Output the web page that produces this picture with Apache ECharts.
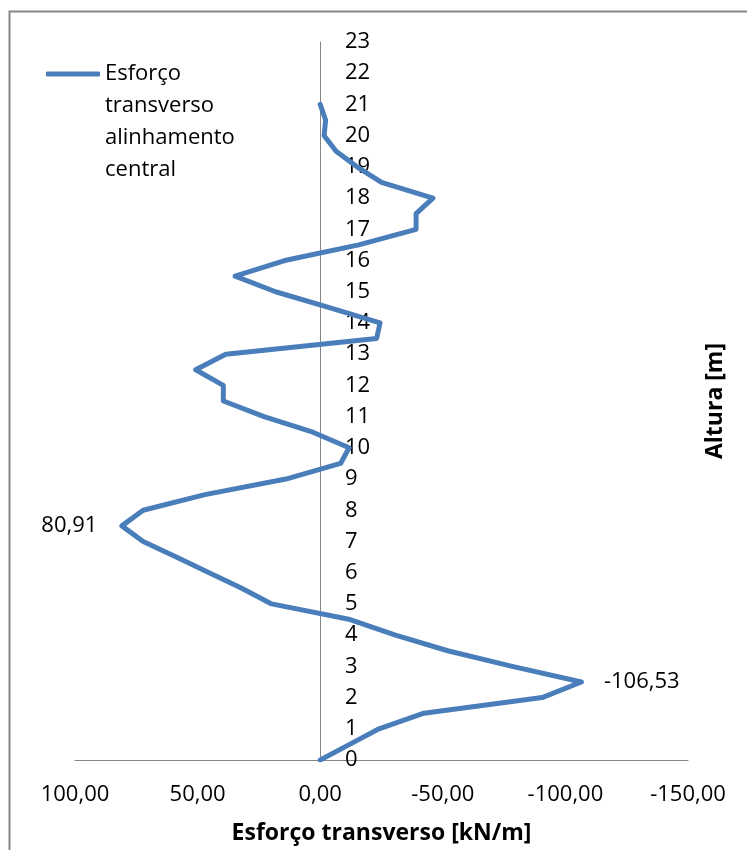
<!DOCTYPE html>
<html>
<head>
<meta charset="utf-8">
<script src="https://cdn.jsdelivr.net/npm/echarts@6/dist/echarts.min.js"></script>
<style>
html,body{margin:0;padding:0;background:#fff;}
#chart{width:747px;height:850px;}
</style>
</head>
<body>
<div id="chart"></div>
<script>
// Data
var seriesName = 'Esforço transverso alinhamento central';
var heights = [0,0.5,1,1.5,2,2.5,3,3.5,4,4.5,5,5.5,6,6.5,7,7.5,8,8.5,9,9.5,10,10.5,11,11.5,12,12.5,13,13.5,14,14.5,15,15.5,16,16.5,17,17.5,18,18.5,19,19.5,20,20.5,21];
var shearValues = [0,-12,-24,-42.3,-90.5,-106.53,-78.3,-52,-30.7,-12.2,19.8,32,45.3,58.7,72.2,80.91,72.2,47,14,-8.3,-11.8,3,22.9,39.5,39.5,50.8,38.5,-23,-24.4,-3.4,18.2,34.7,14.5,-15.7,-39.1,-39.1,-46,-25,-15,-6.5,-1.6,-2.2,0];
var xTicks = [-150,-100,-50,0,50,100];
var labelledPoints = [{index:15, position:'left'}, {index:5, position:'right'}];
var xTitle = 'Esforço transverso [kN/m]';
var yTitle = 'Altura [m]';

function fmt(v){ return v.toFixed(2).replace('.', ','); }

var FONT = '"Open Sans", sans-serif';
var lineColor = '#4a7ebb';

var data = heights.map(function(h, i){
  return { value: [shearValues[i], h] };
});
labelledPoints.forEach(function(p){
  data[p.index].label = { show: true, position: p.position, distance: p.position === 'left' ? 24 : 22 };
});

var chart = echarts.init(document.getElementById('chart'), null, {renderer:'canvas'});
chart.setOption({
  animation: false,
  backgroundColor: '#fff',
  textStyle: { fontFamily: FONT },
  grid: { left: 75, right: 59, top: 42, bottom: 90, containLabel: false },
  legend: {
    left: 46, top: -38, padding: 0,
    icon: 'roundRect', itemWidth: 54, itemHeight: 5,
    data: [seriesName],
    formatter: function(n){ return '\n\n\n' + n.split(' ').join('\n'); },
    textStyle: { fontFamily: FONT, fontSize: 22, color: '#000', lineHeight: 32 }
  },
  xAxis: {
    type: 'value', inverse: true,
    min: xTicks[0], max: xTicks[xTicks.length-1], interval: 50,
    name: xTitle, nameLocation: 'middle', nameGap: 62,
    nameTextStyle: { fontFamily: FONT, fontSize: 23, fontWeight: 'bold', color: '#000' },
    axisLine: { lineStyle: { color: '#868686', width: 1 } },
    axisTick: { show: false },
    splitLine: { show: false },
    axisLabel: { formatter: fmt, fontSize: 22, color: '#000', margin: 24, fontFamily: FONT }
  },
  yAxis: [{
    type: 'value', min: 0, max: 23, interval: 1,
    axisLine: { show: true, onZero: true, lineStyle: { color: '#868686', width: 1 } },
    axisTick: { show: false },
    splitLine: { show: false },
    axisLabel: { inside: true, margin: 270, fontSize: 22, color: '#000', fontFamily: FONT }
  }, {
    type: 'value', min: 0, max: 23, position: 'right',
    name: yTitle, nameLocation: 'middle', nameGap: 16, nameRotate: 90,
    nameTextStyle: { fontFamily: FONT, fontSize: 23, fontWeight: 'bold', color: '#000' },
    axisLine: { show: false }, axisTick: { show: false },
    axisLabel: { show: false }, splitLine: { show: false }
  }],
  series: [{
    name: seriesName,
    type: 'line',
    data: data,
    showSymbol: true,
    symbol: 'circle', symbolSize: 1,
    itemStyle: { color: lineColor },
    lineStyle: { color: lineColor, width: 5, cap: 'round', join: 'round' },
    label: { show: false, formatter: function(p){ return fmt(p.value[0]); }, fontSize: 22, color: '#000', fontFamily: FONT },
    emphasis: { disabled: true }
  }],
  graphic: [{
    type: 'rect', silent: true, z: -1,
    shape: { x: 9.5, y: 11.5, width: 800, height: 900 },
    style: { fill: 'none', stroke: '#868686', lineWidth: 2 }
  }]
});
</script>
</body>
</html>
